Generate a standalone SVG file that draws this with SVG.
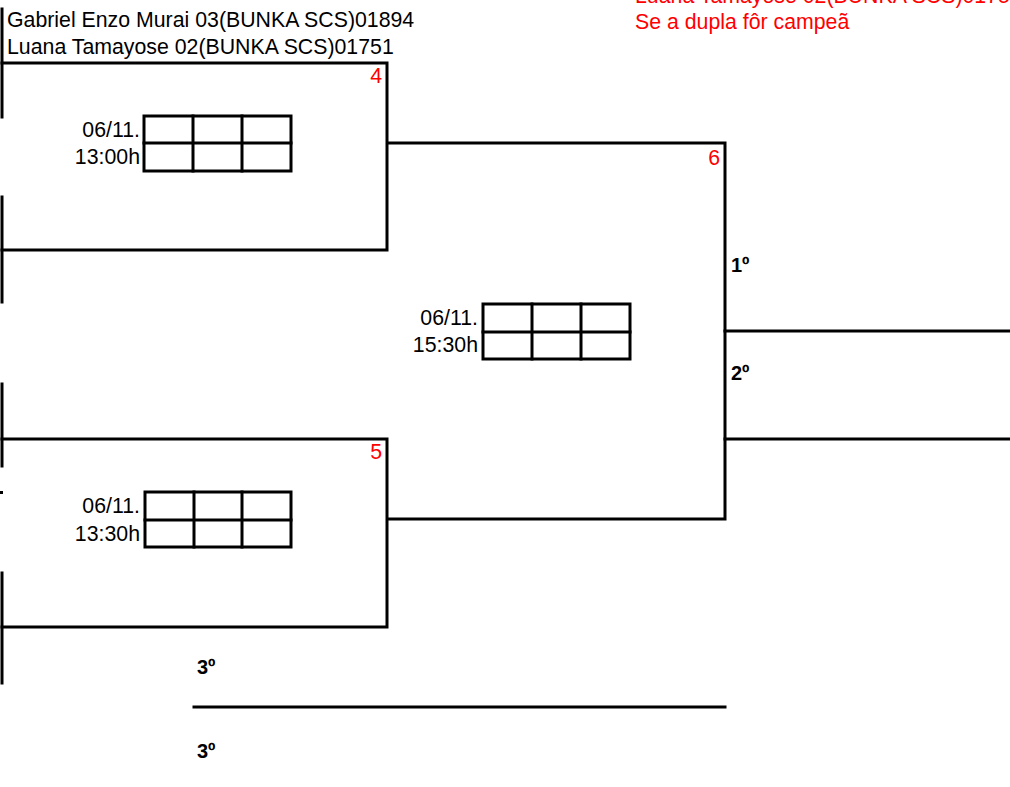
<svg xmlns="http://www.w3.org/2000/svg" width="1010" height="787" viewBox="0 0 1010 787">
<style>
.ln{stroke:#000;stroke-width:3;fill:none;stroke-linecap:square}
.bx{stroke:#000;stroke-width:3;fill:none}
.t{font-family:"Liberation Sans",Arial,sans-serif;font-size:21.3px;fill:#000}
.r{font-family:"Liberation Sans",Arial,sans-serif;font-size:21.3px;fill:#ff0000}
.b{font-family:"Liberation Sans",Arial,sans-serif;font-size:20px;font-weight:bold;fill:#000}
.e{text-anchor:end}
</style>
<rect width="1010" height="787" fill="#fff"/>
<g id="header">
<text class="t" x="7" y="27">Gabriel Enzo Murai 03(BUNKA SCS)01894</text>
<text class="t" x="7" y="54">Luana Tamayose 02(BUNKA SCS)01751</text>
<text class="r" x="635" y="3">Luana Tamayose 02(BUNKA SCS)01751</text>
<text class="r" x="635" y="29">Se a dupla fôr campeã</text>
</g>
<g id="connectors">
<path class="ln" d="M2,9V117 M2,197V302 M2,384V466 M2,573V683"/>
<rect x="0" y="491" width="3" height="3" fill="#000"/>
<path class="ln" d="M2,63H387V250H2"/>
<path class="ln" d="M2,439H387V627H2"/>
<path class="ln" d="M388,143H725V519H388"/>
<path class="ln" d="M725,331H1010 M725,439H1010"/>
<path class="ln" d="M194,707H725"/>
</g>
<g id="match4">
<text class="r e" x="382" y="83">4</text>
<text class="t e" x="140" y="137">06/11.</text>
<text class="t e" x="140" y="164">13:00h</text>
<rect class="bx" x="144" y="116" width="147" height="55"/>
<path class="ln" d="M144,143H291 M193,116V171 M242,116V171"/>
</g>
<g id="match5">
<text class="r e" x="382" y="459">5</text>
<text class="t e" x="140" y="513">06/11.</text>
<text class="t e" x="140" y="541">13:30h</text>
<rect class="bx" x="145" y="492" width="146" height="55"/>
<path class="ln" d="M145,520H291 M194,492V547 M242,492V547"/>
</g>
<g id="match6">
<text class="r e" x="720" y="165">6</text>
<text class="t e" x="478" y="325">06/11.</text>
<text class="t e" x="478" y="352">15:30h</text>
<rect class="bx" x="483" y="304" width="147" height="55"/>
<path class="ln" d="M483,332H630 M532,304V359 M581,304V359"/>
</g>
<g id="places">
<text class="b" x="731" y="272">1º</text>
<text class="b" x="731" y="380">2º</text>
<text class="b" x="197" y="674">3º</text>
<text class="b" x="197" y="758">3º</text>
</g>
</svg>
